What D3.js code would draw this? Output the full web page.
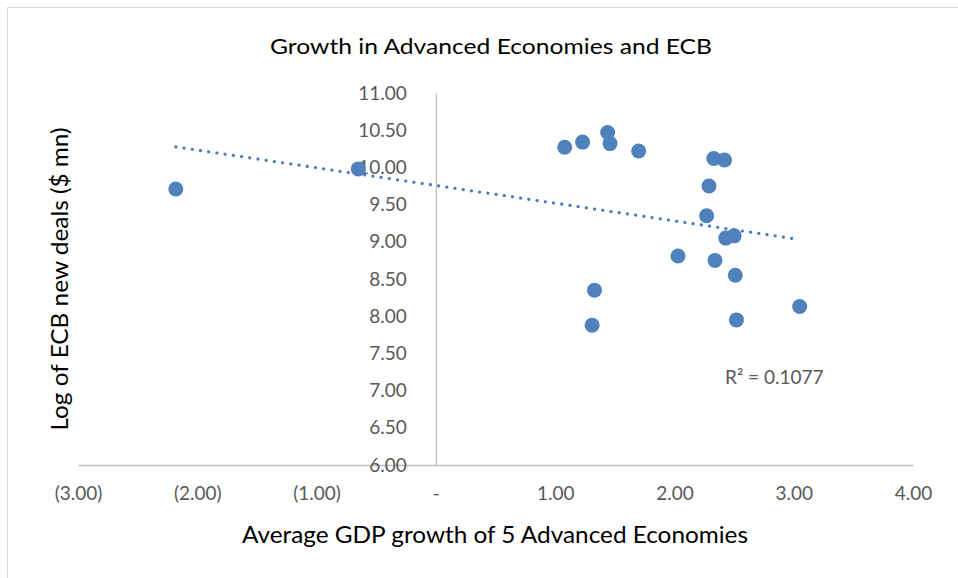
<!DOCTYPE html>
<html>
<head>
<meta charset="utf-8">
<script src="https://cdn.jsdelivr.net/npm/d3@7"></script>
<style>
  html, body { margin: 0; padding: 0; background: #fff; }
  svg { display: block; font-family: Lato, "Noto Sans", sans-serif; }
</style>
</head>
<body>
<svg id="chart" width="958" height="578"></svg>
<script>
// ---- data ----
const chartTitle = "Growth in Advanced Economies and ECB";
const xTitle = "Average GDP growth of 5 Advanced Economies";
const yTitle = "Log of ECB new deals ($ mn)";
const r2Label = "R² = 0.1077";

const gdpGrowth = [-2.18, -0.65, 1.08, 1.23, 1.44, 1.46, 1.70, 2.33, 2.42, 2.29,
                   2.27, 2.43, 2.50, 2.03, 2.34, 2.51, 1.33, 1.31, 2.52, 3.05];
const logDeals  = [9.71, 9.98, 10.27, 10.34, 10.47, 10.32, 10.22, 10.12, 10.10, 9.75,
                   9.35, 9.05, 9.08, 8.81, 8.75, 8.55, 8.35, 7.88, 7.95, 8.13];

const xTicks = [-3, -2, -1, 0, 1, 2, 3, 4];
const xTickLabels = ["(3.00)", "(2.00)", "(1.00)", "-", "1.00", "2.00", "3.00", "4.00"];
const yTicks = [6, 6.5, 7, 7.5, 8, 8.5, 9, 9.5, 10, 10.5, 11];
const yTickLabels = ["6.00", "6.50", "7.00", "7.50", "8.00", "8.50", "9.00", "9.50", "10.00", "10.50", "11.00"];

// ---- layout ----
const svg = d3.select("#chart");
const plot = { left: 78, right: 913, top: 93, bottom: 465 };
const x = d3.scaleLinear().domain([-3, 4]).range([plot.left, plot.right]);
const y = d3.scaleLinear().domain([6, 11]).range([plot.bottom, plot.top]);

const points = gdpGrowth.map((g, i) => ({ x: g, y: logDeals[i] }));

// chart border
svg.append("rect")
  .attr("x", 7.5).attr("y", 7.5).attr("width", 1000).attr("height", 700)
  .attr("fill", "none").attr("stroke", "#d9d9d9").attr("stroke-width", 1);

// title
svg.append("text")
  .attr("x", 491).attr("y", 54)
  .attr("text-anchor", "middle")
  .attr("font-size", 21.5).attr("fill", "#000")
  .attr("textLength", 442).attr("lengthAdjust", "spacingAndGlyphs")
  .text(chartTitle);

// x axis (at y = 6)
const xAxis = d3.axisBottom(x)
  .tickValues(xTicks)
  .tickSize(0)
  .tickPadding(22)
  .tickFormat((d, i) => xTickLabels[i]);
const gx = svg.append("g").attr("transform", `translate(0,${y(6)})`).call(xAxis);
gx.select(".domain").attr("stroke", "#bfbfbf").attr("stroke-width", 1.3);
gx.selectAll("text").attr("font-size", 19).attr("fill", "#595959").attr("font-family", "Lato, sans-serif");

// y axis (at x = 0)
const yAxis = d3.axisLeft(y)
  .tickValues(yTicks)
  .tickSize(0)
  .tickPadding(29)
  .tickFormat((d, i) => yTickLabels[i]);
const gy = svg.append("g").attr("transform", `translate(${x(0)},0)`).call(yAxis);
gy.select(".domain").attr("stroke", "#bfbfbf").attr("stroke-width", 1.3);
gy.selectAll("text").attr("font-size", 19).attr("fill", "#595959").attr("font-family", "Lato, sans-serif");

// axis titles
svg.append("text")
  .attr("x", 495).attr("y", 543)
  .attr("text-anchor", "middle")
  .attr("font-size", 23).attr("fill", "#000")
  .attr("textLength", 506).attr("lengthAdjust", "spacingAndGlyphs")
  .text(xTitle);

svg.append("text")
  .attr("transform", `translate(68,${(plot.top + plot.bottom) / 2}) rotate(-90)`)
  .attr("text-anchor", "middle")
  .attr("font-size", 23).attr("fill", "#000")
  .attr("textLength", 303).attr("lengthAdjust", "spacingAndGlyphs")
  .text(yTitle);

// linear regression trendline
const mx = d3.mean(points, d => d.x), my = d3.mean(points, d => d.y);
const sxy = d3.sum(points, d => (d.x - mx) * (d.y - my));
const sxx = d3.sum(points, d => (d.x - mx) ** 2);
const slope = sxy / sxx, intercept = my - slope * mx;
const [xmin, xmax] = d3.extent(points, d => d.x);
const trend = [{ x: xmin, y: intercept + slope * xmin }, { x: xmax, y: intercept + slope * xmax }];

// points
svg.append("g").selectAll("circle")
  .data(points).join("circle")
  .attr("cx", d => x(d.x)).attr("cy", d => y(d.y))
  .attr("r", 7.5)
  .attr("fill", "#4f81bd");

svg.append("path")
  .datum(trend)
  .attr("d", d3.line().x(d => x(d.x)).y(d => y(d.y)))
  .attr("fill", "none")
  .attr("stroke", "#4a7ebb")
  .attr("stroke-width", 3.2)
  .attr("stroke-linecap", "round")
  .attr("stroke-dasharray", "0.1 8.2");

// R² label
svg.append("text")
  .attr("x", 725).attr("y", 384)
  .attr("font-size", 19).attr("fill", "#595959")
  .text(r2Label);
</script>
</body>
</html>
